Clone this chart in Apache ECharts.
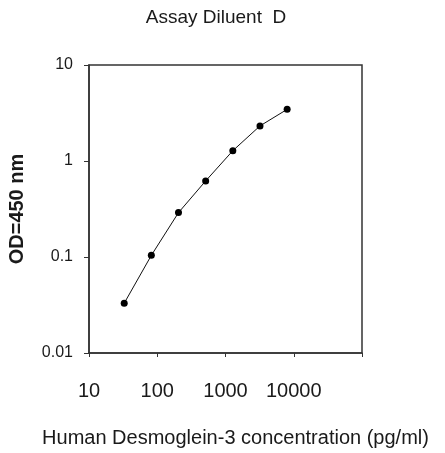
<!DOCTYPE html>
<html>
<head>
<meta charset="utf-8">
<script src="https://cdn.jsdelivr.net/npm/echarts@6/dist/echarts.min.js"></script>
<style>
html, body { margin: 0; padding: 0; background: #fff; }
#chart { width: 445px; height: 453px; }
</style>
</head>
<body>
<div id="chart"></div>
<script>
var concentration = [32.8, 81.9, 204.8, 512, 1280, 3200, 8000];
var od = [0.033, 0.104, 0.29, 0.62, 1.28, 2.32, 3.45];
var xTickLabels = ['10', '100', '1000', '10000'];
var yTickLabels = ['0.01', '0.1', '1', '10'];

var points = concentration.map(function (c, i) { return [c, od[i]]; });

var chart = echarts.init(document.getElementById('chart'));
chart.setOption({
	backgroundColor: '#fff',
	animation: false,
	title: {
		text: 'Assay Diluent  D',
		left: 211,
		top: 3,
		textAlign: 'center',
		textStyle: { fontFamily: 'Liberation Sans', fontSize: 19, fontWeight: 'normal', color: '#1a1a1a' }
	},
	grid: { left: 89, right: 83, top: 65, bottom: 100, outerBoundsMode: 'none', containLabel: false },
	xAxis: {
		type: 'log',
		logBase: 10,
		min: 10,
		max: 100000,
		name: 'Human Desmoglein-3 concentration (pg/ml)',
		nameLocation: 'middle',
		nameGap: 75,
		nameTextStyle: { fontFamily: 'Liberation Sans', fontSize: 20, color: '#1a1a1a', padding: [0, 0, 0, 20] },
		axisLine: { lineStyle: { color: '#333', width: 1.5 } },
		axisTick: { show: true, length: 4, lineStyle: { color: '#333' } },
		axisLabel: {
			margin: 28,
			fontFamily: 'Liberation Sans',
			fontSize: 20,
			color: '#1a1a1a',
			formatter: function (v) {
				var s = String(Math.round(v));
				return xTickLabels.indexOf(s) >= 0 ? s : '';
			}
		},
		splitLine: { show: false },
		minorTick: { show: false }
	},
	yAxis: {
		type: 'log',
		logBase: 10,
		min: 0.01,
		max: 10,
		name: 'OD=450 nm',
		nameLocation: 'middle',
		nameGap: 62,
		nameTextStyle: { fontFamily: 'Liberation Sans', fontSize: 20, fontWeight: 'bold', color: '#1a1a1a' },
		axisLine: { lineStyle: { color: '#333', width: 1.5 } },
		axisTick: { show: true, length: 5, lineStyle: { color: '#333' } },
		axisLabel: {
			margin: 16,
			fontFamily: 'Liberation Sans',
			fontSize: 16,
			color: '#1a1a1a',
			formatter: function (v) {
				var s = String(+v.toPrecision(3));
				return yTickLabels.indexOf(s) >= 0 ? s : '';
			}
		},
		splitLine: { show: false }
	},
	graphic: [{
		type: 'rect',
		shape: { x: 89, y: 65, width: 273, height: 288 },
		style: { fill: 'none', stroke: '#333', lineWidth: 1.5 },
		silent: true,
		z: 0
	}],
	series: [{
		type: 'line',
		data: points,
		symbol: 'circle',
		symbolSize: 7,
		itemStyle: { color: '#000' },
		lineStyle: { color: '#111', width: 1 }
	}]
});
</script>
</body>
</html>
